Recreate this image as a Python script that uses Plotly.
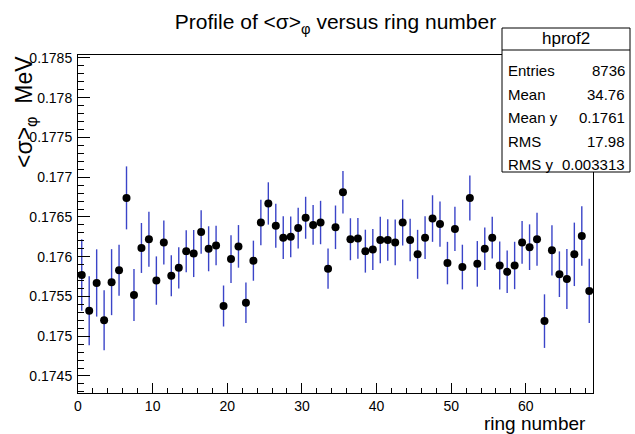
import plotly.graph_objects as go

# Profile of <sigma>_phi per ring (bin centres at ring + 0.5)
ring = [i + 0.5 for i in range(69)]
sigma_mean = [
    0.17577, 0.17532, 0.17567, 0.17520, 0.17568, 0.17583, 0.17674, 0.17552, 0.17611, 0.17622,
    0.17570, 0.17618, 0.17576, 0.17586, 0.17607, 0.17604, 0.17631, 0.17610, 0.17614, 0.17538,
    0.17597, 0.17613, 0.17542, 0.17595, 0.17643, 0.17667, 0.17639, 0.17624, 0.17625, 0.17636,
    0.17649, 0.17640, 0.17643, 0.17585, 0.17637, 0.17681, 0.17622, 0.17623, 0.17607, 0.17609,
    0.17621, 0.17621, 0.17618, 0.17643, 0.17621, 0.17603, 0.17624, 0.17648, 0.17641, 0.17592,
    0.17635, 0.17587, 0.17674, 0.17591, 0.17610, 0.17624, 0.17589, 0.17581, 0.17589, 0.17618,
    0.17612, 0.17622, 0.17519, 0.17608, 0.17578, 0.17572, 0.17603, 0.17626, 0.17557,
]
sigma_err = [
    0.000450, 0.000434, 0.000423, 0.000377, 0.000415, 0.000320, 0.000396, 0.000327, 0.000314, 0.000346,
    0.000304, 0.000277, 0.000258, 0.000260, 0.000264, 0.000296, 0.000273, 0.000283, 0.000248, 0.000258,
    0.000300, 0.000268, 0.000255, 0.000252, 0.000287, 0.000266, 0.000277, 0.000270, 0.000256, 0.000256,
    0.000264, 0.000249, 0.000273, 0.000252, 0.000274, 0.000268, 0.000264, 0.000256, 0.000270, 0.000258,
    0.000293, 0.000262, 0.000287, 0.000289, 0.000267, 0.000308, 0.000268, 0.000293, 0.000286, 0.000267,
    0.000277, 0.000281, 0.000283, 0.000287, 0.000267, 0.000262, 0.000302, 0.000267, 0.000298, 0.000268,
    0.000287, 0.000333, 0.000337, 0.000317, 0.000287, 0.000377, 0.000399, 0.000375, 0.000405,
]

x_tickvals = [0, 10, 20, 30, 40, 50, 60]
x_ticktext = ["0", "10", "20", "30", "40", "50", "60"]
y_tickvals = [0.1745, 0.175, 0.1755, 0.176, 0.1765, 0.177, 0.1775, 0.178, 0.1785]
y_ticktext = ["0.1745", "0.175", "0.1755", "0.176", "0.1765", "0.177", "0.1775", "0.178", "0.1785"]

stats_title = "hprof2"
stats_names = ["Entries", "Mean", "Mean y", "RMS", "RMS y"]
stats_values = ["8736", "34.76", "0.1761", "17.98", "0.003313"]

W, H = 635, 434
L, R, T, B = 78, 593, 55, 393  # frame edges in pixels
FONT = "Liberation Sans, Arial, Helvetica, sans-serif"


def px(xp):
    return (xp - L) / (R - L)


def py(yp):
    return (B - yp) / (B - T)


fig = go.Figure()
fig.add_trace(go.Scatter(
    x=ring, y=sigma_mean, mode="markers",
    marker=dict(color="black", size=8, symbol="circle"),
    error_y=dict(type="data", array=sigma_err, visible=True,
                 color="#3a44c8", thickness=1.4, width=0),
    showlegend=False, hoverinfo="x+y",
))

axis_common = dict(
    showline=True, linecolor="black", linewidth=1, mirror=True,
    ticks="inside", tickcolor="black", tickwidth=1,
    showgrid=False, zeroline=False,
    tickfont=dict(family=FONT, size=14, color="black"),
)

fig.update_xaxes(
    range=[0, 69], tickmode="array", tickvals=x_tickvals, ticktext=x_ticktext,
    ticklen=10,
    minor=dict(ticks="inside", ticklen=5, tickcolor="black", tick0=0, dtick=2, showgrid=False),
    **axis_common,
)
fig.update_yaxes(
    range=[0.174286, 0.178537], tickmode="array", tickvals=y_tickvals, ticktext=y_ticktext,
    ticklen=12, ticklabelstandoff=2,
    minor=dict(ticks="inside", ticklen=6, tickcolor="black", tick0=0.1745, dtick=0.0001, showgrid=False),
    **axis_common,
)

annotations = [
    # y-axis title, aligned to the top of the axis
    dict(text="&lt;σ&gt;<sub>φ</sub>  MeV", textangle=-90,
         x=px(25), y=py(54), xref="paper", yref="paper",
         xanchor="center", yanchor="top", showarrow=False,
         font=dict(family=FONT, size=23, color="black")),
    # x-axis title, aligned to the right end of the axis
    dict(text="ring number", x=px(588), y=py(424), xref="paper", yref="paper",
         xanchor="right", yanchor="middle", showarrow=False,
         font=dict(family=FONT, size=19, color="black")),
    # statistics box header
    dict(text=stats_title, x=px(566), y=py(39), xref="paper", yref="paper",
         xanchor="center", yanchor="middle", showarrow=False,
         font=dict(family=FONT, size=17, color="black")),
]
row_y = [70, 94, 118, 141, 164]
for name, val, yy in zip(stats_names, stats_values, row_y):
    annotations.append(dict(text=name, x=px(506), y=py(yy), xref="paper", yref="paper",
                            xanchor="left", yanchor="middle", showarrow=False,
                            font=dict(family=FONT, size=15, color="black")))
    annotations.append(dict(text=val, x=px(627), y=py(yy), xref="paper", yref="paper",
                            xanchor="right", yanchor="middle", showarrow=False,
                            font=dict(family=FONT, size=15, color="black")))

shapes = [
    dict(type="rect", xref="paper", yref="paper",
         x0=px(502), x1=px(630), y0=py(172), y1=py(28),
         line=dict(color="black", width=1), fillcolor="white", layer="above"),
    dict(type="line", xref="paper", yref="paper",
         x0=px(502), x1=px(630), y0=py(50), y1=py(50),
         line=dict(color="black", width=1), layer="above"),
]

fig.update_layout(
    width=W, height=H, autosize=False,
    margin=dict(l=L, r=W - R, t=T, b=H - B, pad=0),
    paper_bgcolor="white", plot_bgcolor="white",
    title=dict(text="Profile of &lt;σ&gt;<sub>φ</sub> versus ring number",
               x=0.5, xref="paper", xanchor="center",
               y=1 - 22 / H, yref="container", yanchor="middle",
               font=dict(family=FONT, size=21, color="black")),
    annotations=annotations, shapes=shapes,
)

fig.write_html("out.html")
